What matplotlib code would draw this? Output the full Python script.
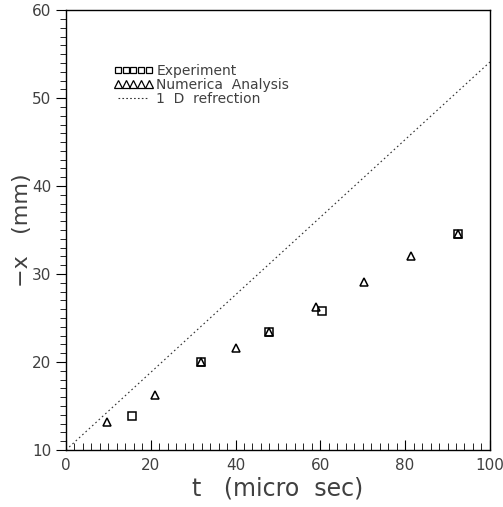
#Shock front position vs time: experiment, numerical analysis and 1D refraction
import numpy as np
import matplotlib.pyplot as plt
from matplotlib.ticker import MultipleLocator
from matplotlib.lines import Line2D

#Data
exp_t = [15.7, 31.8, 48.0, 60.3, 92.5]
exp_x = [13.9, 20.0, 23.4, 25.8, 34.5]

num_t = [9.7, 21.0, 31.8, 40.0, 48.0, 59.1, 70.3, 81.3, 92.5]
num_x = [13.2, 16.25, 20.0, 21.6, 23.4, 26.3, 29.1, 32.0, 34.5]

ref_t = [0, 100]
ref_x = [10, 54.1]

txt = '#404040'

fig = plt.figure(figsize=(5.03, 5.07), dpi=100)
ax = fig.add_axes([0.131, 0.1124, 0.843, 0.8676])

ax.plot(ref_t, ref_x, ls=(0, (1.5, 2.5)), color='#333333', lw=0.8)
ax.plot(exp_t, exp_x, 's', ms=5.5, mfc='none', mec='black', mew=1.1)
ax.plot(num_t, num_x, '^', ms=6, mfc='none', mec='black', mew=1.1)

ax.set_xlim(0, 100)
ax.set_ylim(10, 60)
ax.xaxis.set_major_locator(MultipleLocator(20))
ax.xaxis.set_minor_locator(MultipleLocator(2))
ax.yaxis.set_major_locator(MultipleLocator(10))
ax.yaxis.set_minor_locator(MultipleLocator(1))
ax.tick_params(axis='x', which='both', direction='in', top=False, labelsize=11, labelcolor=txt, pad=6)
ax.tick_params(axis='x', which='major', length=7)
ax.tick_params(axis='x', which='minor', length=5)
ax.tick_params(axis='y', which='both', direction='out', right=False, labelsize=11, labelcolor=txt)
ax.tick_params(axis='y', which='major', length=7)
ax.tick_params(axis='y', which='minor', length=4)
for s in ax.spines.values():
    s.set_linewidth(1.0)

ax.set_xlabel('t   (micro  sec)', fontsize=17, color=txt, labelpad=2)
ax.set_ylabel('\u2212x   (mm)', fontsize=16, color=txt)
ax.yaxis.set_label_coords(-0.08, 0.5)

#Legend
handles = [
    Line2D([], [], marker='s', ls='none', ms=5, mfc='none', mec='black', mew=0.9),
    Line2D([], [], marker='^', ls='none', ms=5.5, mfc='none', mec='black', mew=0.9),
    Line2D([], [], ls=(0, (1.5, 2)), color='#333333', lw=0.8),
]
labels = ['Experiment', 'Numerica  Analysis', '1  D  refrection']
leg = ax.legend(handles, labels, loc='upper left', bbox_to_anchor=(0.1, 0.89),
                frameon=False, numpoints=5, handlelength=2.8, handletextpad=0.25,
                labelspacing=0.0, fontsize=10, borderaxespad=0)
for t in leg.get_texts():
    t.set_color(txt)

fig.savefig('out.png', dpi=100)
